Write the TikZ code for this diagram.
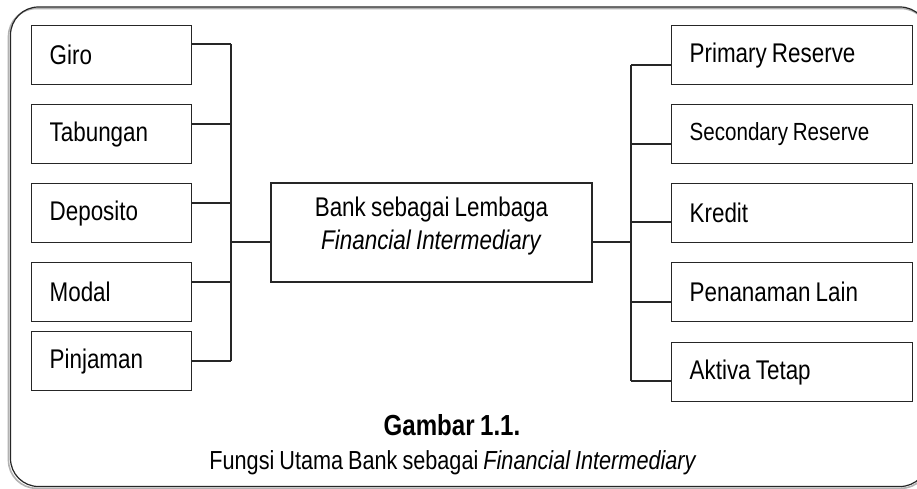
\documentclass[tikz,border=0pt]{standalone}
\usepackage{fontspec}
\setmainfont{Liberation Sans}[FakeStretch=0.83, WordSpace=0.83]
\begin{document}
\begin{tikzpicture}[x=1pt,y=-1pt,
  lbl/.style={font=\fontsize{27}{32}\selectfont},
  sbox/.style={draw=black!85, line width=1.3pt, rectangle, anchor=north west,
    minimum height=59pt, inner xsep=18pt, align=flush left, lbl},
  lbox/.style={sbox, minimum width=160pt, text width=124pt},
  rbox/.style={sbox, minimum width=241pt, text width=205pt},
  conn/.style={draw=black!85, line width=1.3pt}]
\useasboundingbox (0,0) rectangle (917,489);
\clip (0,0) rectangle (917,489);
\fill[white] (0,0) rectangle (917,489);
% frame
\draw[gray!60, line width=1.6pt, rounded corners=28pt] (8.5,8.5) rectangle (929,488.3);
\draw[black!85, line width=1.2pt, rounded corners=28pt] (10.5,7) rectangle (928,486.5);
% left boxes
\node[lbox] (giro) at (31,25) {Giro};
\node[lbox] (tab) at (31,104) {Tabungan};
\node[lbox] (dep) at (31,183) {Deposito};
\node[lbox] (mod) at (31,262) {Modal};
\node[lbox] (pin) at (31,331) {Pinjaman};
% right boxes
\node[rbox] (pr) at (671,25) {Primary Reserve};
\node[rbox, font=\fontsize{24.8}{30}\selectfont] (sr) at (671,104) {Secondary Reserve};
\node[rbox] (kr) at (671,183) {Kredit};
\node[rbox] (pl) at (671,262) {Penanaman Lain};
\node[rbox] (at) at (671,342) {Aktiva Tetap};
% centre
\node[draw=black!85, line width=1.3pt, rectangle, minimum width=321pt, minimum height=99pt] (bank) at (431.5,232.5) {};
\node[align=center, font=\fontsize{27}{33}\selectfont] (banktext) at (431.5,226) {Bank sebagai Lembaga\\\textit{Financial Intermediary}};
% junctions
\coordinate (jg) at (231,44);
\coordinate (jt) at (231,124);
\coordinate (jd) at (231,203);
\coordinate (jm) at (231,282);
\coordinate (jp) at (231,361);
\coordinate (jl) at (231,242);
\coordinate (jr) at (631,242);
\coordinate (j1) at (631,65);
\coordinate (j2) at (631,144);
\coordinate (j3) at (631,222);
\coordinate (j4) at (631,302);
\coordinate (j5) at (631,381);
\path[conn] (giro.east |- jg) -- (jg);
\path[conn] (tab.east |- jt) -- (jt);
\path[conn] (dep.east |- jd) -- (jd);
\path[conn] (mod.east |- jm) -- (jm);
\path[conn] (pin.east |- jp) -- (jp);
\path[conn] (jg) -- (jp);
\path[conn] (jl) -- (bank.west |- jl);
\path[conn] (bank.east |- jr) -- (jr);
\path[conn] (j1) -- (j5);
\path[conn] (j1) -- (pr.west |- j1);
\path[conn] (j2) -- (sr.west |- j2);
\path[conn] (j3) -- (kr.west |- j3);
\path[conn] (j4) -- (pl.west |- j4);
\path[conn] (j5) -- (at.west |- j5);
% caption
\node[anchor=base, font=\fontsize{29}{32}\selectfont\bfseries] (cap1) at (452,435) {Gambar 1.1.};
\node[anchor=base, font=\fontsize{26.1}{32}\selectfont] (cap2) at (453,469) {Fungsi Utama Bank sebagai \textit{Financial Intermediary}};
\end{tikzpicture}
\end{document}
